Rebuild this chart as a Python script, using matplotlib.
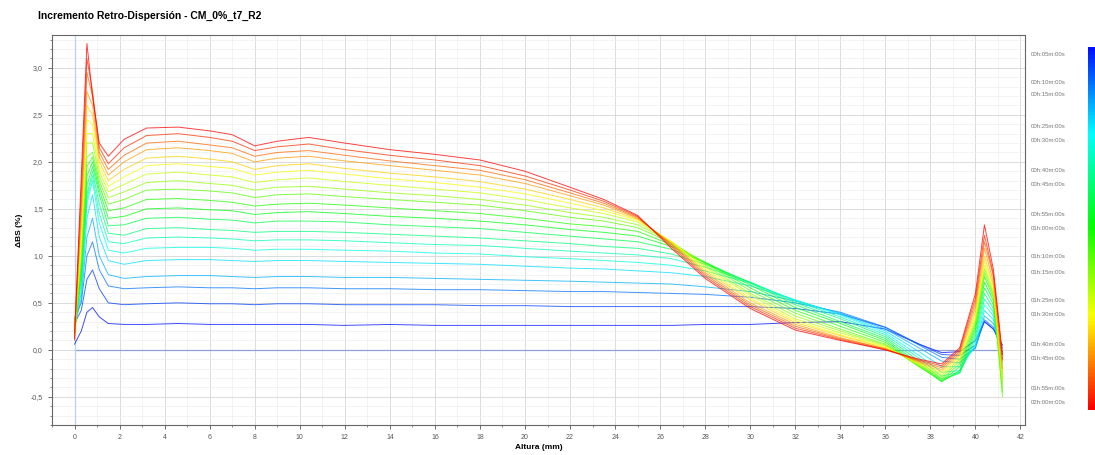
import numpy as np
import matplotlib
matplotlib.use("Agg")
import matplotlib.pyplot as plt
from matplotlib.colors import ListedColormap
from matplotlib.ticker import MultipleLocator, FuncFormatter

plt.rcParams['font.family'] = ['Liberation Sans', 'DejaVu Sans']

# Altura (mm) donde se leyeron los valores
altura = [0.0, 0.3, 0.55, 0.8, 1.1, 1.5, 2.2, 3.2,
          4.6, 6.0, 7.0, 8.0, 9.0, 10.4, 12.0, 14.0, 16.0, 18.0, 20.0, 22.0,
          23.5, 25.0, 26.5, 28.0, 30.0, 32.0, 34.0, 36.0, 37.5, 38.5, 39.3, 40.0, 40.4, 40.8, 41.2]

# Delta BS (%) de cada barrido, del primero (azul) al último (rojo)
scan_01 = [0.06, 0.20, 0.40, 0.45, 0.35, 0.28, 0.27, 0.27,
           0.28, 0.27, 0.27, 0.27, 0.27, 0.27, 0.26, 0.27, 0.26, 0.26, 0.26, 0.26,
           0.26, 0.26, 0.26, 0.27, 0.27, 0.29, 0.30, 0.22, 0.06, -0.03, -0.02, 0.10, 0.30, 0.22, 0.05]
scan_02 = [0.28, 0.42, 0.75, 0.85, 0.65, 0.50, 0.48, 0.49,
           0.50, 0.49, 0.49, 0.48, 0.49, 0.49, 0.48, 0.48, 0.48, 0.47, 0.47, 0.46,
           0.46, 0.46, 0.46, 0.46, 0.46, 0.44, 0.38, 0.24, 0.06, -0.05, -0.06, 0.05, 0.30, 0.22, 0.02]
scan_03 = [0.33, 0.50, 1.00, 1.15, 0.85, 0.68, 0.65, 0.66,
           0.67, 0.66, 0.66, 0.65, 0.66, 0.66, 0.65, 0.65, 0.64, 0.64, 0.63, 0.62,
           0.62, 0.61, 0.60, 0.59, 0.56, 0.50, 0.40, 0.24, 0.05, -0.08, -0.10, 0.02, 0.32, 0.24, -0.02]
scan_04 = [0.25, 0.55, 1.20, 1.40, 1.00, 0.80, 0.76, 0.78,
           0.79, 0.79, 0.78, 0.77, 0.78, 0.78, 0.77, 0.77, 0.76, 0.75, 0.74, 0.73,
           0.72, 0.71, 0.70, 0.67, 0.62, 0.52, 0.39, 0.22, 0.02, -0.12, -0.14, 0.02, 0.36, 0.28, -0.05]
scan_05 = [0.30, 0.60, 1.40, 1.65, 1.20, 0.95, 0.91, 0.95,
           0.96, 0.96, 0.95, 0.94, 0.95, 0.95, 0.94, 0.93, 0.92, 0.91, 0.89, 0.87,
           0.86, 0.84, 0.82, 0.78, 0.68, 0.53, 0.38, 0.20, -0.02, -0.18, -0.18, 0.04, 0.42, 0.32, -0.10]
scan_06 = [0.22, 0.65, 1.55, 1.80, 1.35, 1.06, 1.03, 1.08,
           1.09, 1.09, 1.08, 1.06, 1.07, 1.07, 1.06, 1.05, 1.03, 1.02, 0.99, 0.97,
           0.95, 0.93, 0.90, 0.84, 0.71, 0.53, 0.37, 0.18, -0.06, -0.24, -0.22, 0.06, 0.48, 0.36, -0.15]
scan_07 = [0.32, 0.70, 1.60, 1.85, 1.45, 1.15, 1.13, 1.19,
           1.20, 1.19, 1.18, 1.16, 1.17, 1.17, 1.16, 1.14, 1.12, 1.11, 1.08, 1.05,
           1.03, 1.01, 0.97, 0.88, 0.72, 0.52, 0.35, 0.16, -0.09, -0.28, -0.24, 0.10, 0.54, 0.40, -0.20]
scan_08 = [0.20, 0.75, 1.65, 1.90, 1.55, 1.24, 1.22, 1.29,
           1.30, 1.28, 1.27, 1.25, 1.26, 1.26, 1.25, 1.23, 1.21, 1.19, 1.16, 1.13,
           1.10, 1.08, 1.02, 0.91, 0.72, 0.50, 0.33, 0.14, -0.12, -0.31, -0.25, 0.14, 0.60, 0.44, -0.25]
scan_09 = [0.30, 0.80, 1.75, 1.95, 1.65, 1.32, 1.33, 1.40,
           1.41, 1.39, 1.38, 1.35, 1.37, 1.37, 1.36, 1.33, 1.31, 1.29, 1.25, 1.21,
           1.18, 1.15, 1.07, 0.93, 0.71, 0.48, 0.30, 0.12, -0.15, -0.33, -0.24, 0.18, 0.66, 0.48, -0.30]
scan_10 = [0.18, 0.85, 1.85, 2.00, 1.70, 1.40, 1.42, 1.50,
           1.51, 1.49, 1.48, 1.44, 1.46, 1.47, 1.45, 1.42, 1.40, 1.37, 1.33, 1.28,
           1.25, 1.21, 1.10, 0.93, 0.69, 0.45, 0.28, 0.10, -0.17, -0.34, -0.22, 0.22, 0.72, 0.52, -0.35]
scan_11 = [0.28, 0.90, 1.95, 2.05, 1.75, 1.48, 1.51, 1.60,
           1.61, 1.59, 1.57, 1.53, 1.55, 1.56, 1.54, 1.51, 1.48, 1.45, 1.40, 1.34,
           1.31, 1.26, 1.12, 0.93, 0.66, 0.42, 0.25, 0.08, -0.18, -0.33, -0.18, 0.25, 0.78, 0.55, -0.45]
scan_12 = [0.14, 0.95, 2.05, 2.10, 1.80, 1.55, 1.60, 1.70,
           1.71, 1.69, 1.67, 1.62, 1.65, 1.66, 1.63, 1.60, 1.57, 1.54, 1.48, 1.41,
           1.37, 1.30, 1.14, 0.92, 0.63, 0.39, 0.22, 0.06, -0.18, -0.31, -0.15, 0.28, 0.82, 0.58, -0.50]
scan_13 = [0.25, 1.00, 2.20, 2.20, 1.85, 1.62, 1.68, 1.78,
           1.80, 1.77, 1.75, 1.70, 1.73, 1.74, 1.71, 1.67, 1.64, 1.60, 1.54, 1.46,
           1.41, 1.33, 1.15, 0.90, 0.60, 0.36, 0.20, 0.05, -0.17, -0.29, -0.12, 0.30, 0.86, 0.60, -0.40]
scan_14 = [0.12, 1.10, 2.30, 2.30, 1.90, 1.68, 1.76, 1.87,
           1.89, 1.86, 1.84, 1.78, 1.81, 1.83, 1.79, 1.75, 1.71, 1.67, 1.60, 1.51,
           1.45, 1.36, 1.15, 0.88, 0.58, 0.33, 0.18, 0.04, -0.16, -0.27, -0.10, 0.33, 0.90, 0.62, -0.35]
scan_15 = [0.22, 1.20, 2.45, 2.40, 1.95, 1.74, 1.84, 1.96,
           1.98, 1.95, 1.93, 1.86, 1.89, 1.91, 1.87, 1.82, 1.78, 1.73, 1.66, 1.56,
           1.48, 1.38, 1.15, 0.86, 0.55, 0.31, 0.16, 0.03, -0.15, -0.25, -0.08, 0.36, 0.95, 0.65, -0.30]
scan_16 = [0.15, 1.30, 2.60, 2.50, 2.00, 1.80, 1.92, 2.04,
           2.06, 2.03, 2.00, 1.92, 1.96, 1.98, 1.93, 1.88, 1.84, 1.79, 1.71, 1.60,
           1.51, 1.39, 1.14, 0.84, 0.53, 0.29, 0.15, 0.02, -0.14, -0.23, -0.06, 0.40, 1.00, 0.68, -0.25]
scan_17 = [0.20, 1.45, 2.75, 2.60, 2.05, 1.86, 2.00, 2.13,
           2.15, 2.12, 2.09, 2.00, 2.04, 2.06, 2.01, 1.96, 1.91, 1.86, 1.77, 1.64,
           1.54, 1.40, 1.13, 0.82, 0.50, 0.27, 0.13, 0.01, -0.13, -0.21, -0.04, 0.45, 1.08, 0.72, -0.20]
scan_18 = [0.10, 1.55, 2.95, 2.70, 2.10, 1.92, 2.07, 2.20,
           2.22, 2.18, 2.15, 2.06, 2.10, 2.12, 2.07, 2.01, 1.96, 1.91, 1.81, 1.67,
           1.56, 1.41, 1.12, 0.80, 0.48, 0.25, 0.12, 0.01, -0.12, -0.19, -0.02, 0.50, 1.15, 0.78, -0.12]
scan_19 = [0.18, 1.70, 3.10, 2.75, 2.15, 1.98, 2.15, 2.28,
           2.30, 2.26, 2.22, 2.12, 2.16, 2.19, 2.13, 2.07, 2.02, 1.96, 1.85, 1.70,
           1.58, 1.42, 1.10, 0.78, 0.46, 0.23, 0.11, 0.00, -0.11, -0.17, 0.00, 0.55, 1.22, 0.80, -0.10]
scan_20 = [0.12, 1.85, 3.26, 2.70, 2.20, 2.06, 2.24, 2.36,
           2.37, 2.33, 2.29, 2.17, 2.22, 2.26, 2.20, 2.13, 2.08, 2.02, 1.90, 1.73,
           1.60, 1.43, 1.08, 0.76, 0.44, 0.21, 0.10, 0.00, -0.10, -0.15, 0.02, 0.60, 1.33, 0.85, -0.05]

scans = [scan_01, scan_02, scan_03, scan_04, scan_05, scan_06, scan_07, scan_08, scan_09, scan_10,
         scan_11, scan_12, scan_13, scan_14, scan_15, scan_16, scan_17, scan_18, scan_19, scan_20]

# Etiquetas de tiempo de la leyenda (de arriba abajo)
tiempos = ["00h:05m:00s", "00h:10m:00s", "00h:15m:00s", "00h:25m:00s", "00h:30m:00s",
           "00h:40m:00s", "00h:45m:00s", "00h:55m:00s", "01h:00m:00s", "01h:10m:00s",
           "01h:15m:00s", "01h:25m:00s", "01h:30m:00s", "01h:40m:00s", "01h:45m:00s",
           "01h:55m:00s", "02h:00m:00s"]
tiempos_px = [55, 83, 95, 127, 141, 171, 184, 214, 228, 257, 272, 301, 315, 344, 359, 388, 403]

W, H = 1095, 455
fig = plt.figure(figsize=(W / 100, H / 100), dpi=100)
ax = fig.add_axes([52 / W, 1 - 425 / H, (1025 - 52) / W, (425 - 35) / H])

# rojo -> amarillo -> verde -> cian -> azul
cmap = ListedColormap(plt.cm.hsv(np.linspace(0, 0.667, 256)))

n = len(scans)
for k, s in enumerate(scans):
    ax.plot(altura, s, color=cmap(1 - k / (n - 1)), lw=0.7, alpha=0.75, zorder=3)

ax.hlines(0, 0, 41.2, color='#8fa0d8', lw=0.9, zorder=2)
ax.axvline(0, color='#b8d0f4', lw=0.9, zorder=2)

ax.set_xlim(-1.0, 42.2)
ax.set_ylim(-0.80, 3.35)
ax.xaxis.set_major_locator(MultipleLocator(2))
ax.xaxis.set_minor_locator(MultipleLocator(1))
ax.yaxis.set_major_locator(MultipleLocator(0.5))
ax.yaxis.set_minor_locator(MultipleLocator(0.1))
ax.yaxis.set_major_formatter(FuncFormatter(lambda v, p: f"{v:.1f}".replace('.', ',')))
ax.xaxis.set_major_formatter(FuncFormatter(lambda v, p: f"{v:.0f}"))
ax.grid(which='major', color='#d6d6d6', lw=0.6, zorder=0)
ax.grid(which='minor', color='#efefef', lw=0.5, zorder=0)
ax.tick_params(which='major', length=3, width=0.6, labelsize=5, colors='#555555')
ax.tick_params(which='minor', length=1.5, width=0.5, colors='#555555')
for sp in ax.spines.values():
    sp.set_color('#666666')
    sp.set_linewidth(0.8)

ax.set_xlabel('Altura (mm)', fontsize=6, fontweight='bold', labelpad=2)
ax.set_ylabel('ΔBS (%)', fontsize=6, fontweight='bold', labelpad=6)
fig.text(38 / W, 1 - 16 / H, 'Incremento Retro-Dispersión - CM_0%_t7_R2',
         fontsize=7.5, fontweight='bold', va='center', ha='left')

# barra de colores y etiquetas de tiempo
cax = fig.add_axes([1088 / W, 1 - 410 / H, 8 / W, (410 - 47) / H])
cax.imshow(np.linspace(1, 0, 256)[:, None], aspect='auto', cmap=cmap)
cax.axis('off')
for t, y in zip(tiempos, tiempos_px):
    fig.text(1031 / W, 1 - y / H, t, fontsize=4.3, color='#777777', va='center', ha='left')

fig.savefig('out.png', dpi=100)
